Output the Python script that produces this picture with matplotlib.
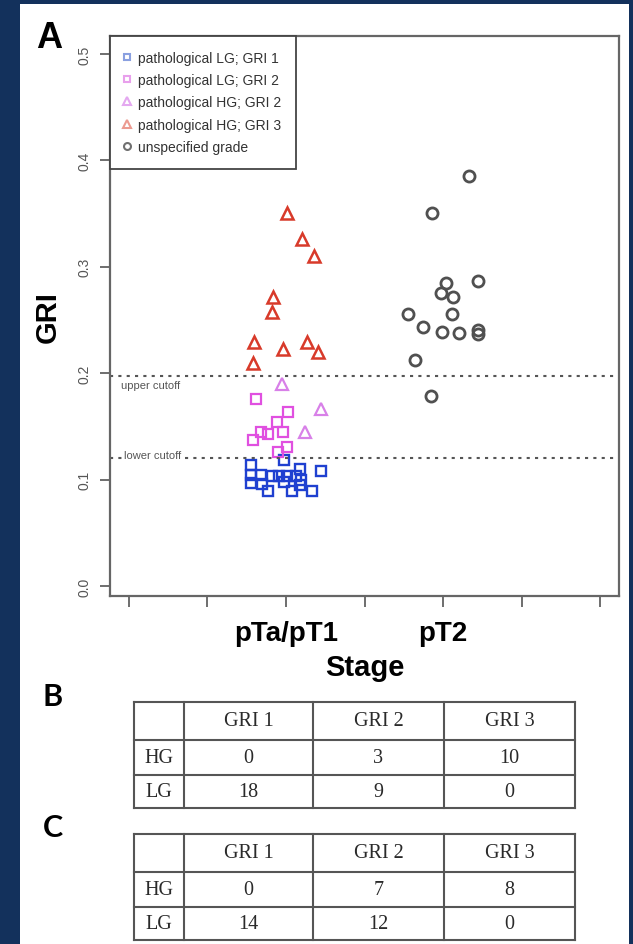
import matplotlib
matplotlib.use("Agg")
import matplotlib.pyplot as plt
from matplotlib.lines import Line2D
from matplotlib.patches import Rectangle

# GRI values (x = jittered stage position)
lg1_x = [0.987, 0.775, 1.087, 1.221, 0.775, 0.839, 0.913, 0.955, 1.008,
         1.062, 1.094, 0.775, 0.849, 0.987, 1.087, 0.887, 1.036, 1.168]
lg1_y = [0.118, 0.114, 0.110, 0.108, 0.104, 0.104, 0.103, 0.103, 0.103,
         0.103, 0.100, 0.097, 0.096, 0.098, 0.095, 0.089, 0.089, 0.089]
lg2_x = [0.811, 1.015, 0.945, 0.839, 0.887, 0.981, 0.790, 1.008, 0.951]
lg2_y = [0.176, 0.164, 0.154, 0.145, 0.143, 0.145, 0.137, 0.131, 0.126]
hg2_x = [0.977, 1.221, 1.121]
hg2_y = [0.190, 0.166, 0.145]
hg3_x = [1.006, 1.104, 1.178, 0.917, 0.909, 0.796, 0.981, 1.136, 1.206, 0.790]
hg3_y = [0.351, 0.326, 0.310, 0.272, 0.258, 0.229, 0.223, 0.229, 0.220, 0.210]
unsp_x = [2.166, 1.932, 2.225, 2.017, 1.985, 2.064, 1.779, 2.059, 1.875,
          1.996, 2.102, 2.225, 2.221, 1.822, 1.921]
unsp_y = [0.385, 0.351, 0.287, 0.285, 0.275, 0.272, 0.256, 0.256, 0.243,
          0.239, 0.238, 0.241, 0.237, 0.212, 0.179]

upper_cutoff = 0.197
lower_cutoff = 0.120

stage_ticks = [0, 0.5, 1, 1.5, 2, 2.5, 3]
stage_labels = ["", "", "pTa/pT1", "", "pT2", "", ""]
gri_ticks = [0.0, 0.1, 0.2, 0.3, 0.4, 0.5]

legend_labels = ["pathological LG; GRI 1", "pathological LG; GRI 2",
                 "pathological HG; GRI 2", "pathological HG; GRI 3",
                 "unspecified grade"]

table_cols = ["", "GRI 1", "GRI 2", "GRI 3"]
table_rows = ["HG", "LG"]
table_b = [[0, 3, 10], [18, 9, 0]]
table_c = [[0, 7, 8], [14, 12, 0]]

sans = ["Liberation Sans", "DejaVu Sans"]

fig = plt.figure(figsize=(6.33, 9.45), dpi=100)
fig.patch.set_facecolor("#13315c")

# белая подложка
bg = fig.add_axes([0, 0, 1, 1])
bg.set_xlim(0, 633)
bg.set_ylim(945, 0)
bg.axis("off")
bg.add_patch(Rectangle((20, 5), 609, 945, facecolor="white", edgecolor="none"))

# panel A
ax = fig.add_axes([110 / 633, 1 - 597 / 945, 509 / 633, 560 / 945])
blue = "#1f40d0"
magenta = "#e050e0"
violet = "#d880e8"
red = "#d83a2a"
grey = "#505050"

ax.plot(lg1_x, lg1_y, "s", ms=7.5, mfc="none", mec=blue, mew=1.7)
ax.plot(lg2_x, lg2_y, "s", ms=7.5, mfc="none", mec=magenta, mew=1.6)
ax.plot(hg2_x, hg2_y, "^", ms=9, mfc="none", mec=violet, mew=1.6)
ax.plot(hg3_x, hg3_y, "^", ms=9, mfc="none", mec=red, mew=1.8)
ax.plot(unsp_x, unsp_y, "o", ms=8, mfc="none", mec=grey, mew=2)

ax.axhline(upper_cutoff, color="#555555", ls=(0, (1.5, 2.5)), lw=1.5)
ax.axhline(lower_cutoff, color="#555555", ls=(0, (1.5, 2.5)), lw=1.5)
ax.text(-0.05, upper_cutoff - 0.008, "upper cutoff", fontsize=8,
        color="#555555", va="center", ha="left", family=sans)
ax.text(-0.03, lower_cutoff + 0.003, "lower cutoff", fontsize=8,
        color="#555555", va="center", ha="left", family=sans,
        bbox=dict(facecolor="white", edgecolor="none", pad=0.5))

ax.set_xlim(-0.12, 3.12)
ax.set_ylim(-0.0094, 0.517)
ax.set_xticks(stage_ticks)
ax.set_xticklabels(stage_labels, fontsize=20, fontweight="bold", family=sans)
ax.set_yticks(gri_ticks)
ax.set_yticklabels([f"{v:.1f}" for v in gri_ticks], rotation=90,
                   va="center", fontsize=10, color="#555555", family=sans)
ax.tick_params(axis="x", length=8, width=1.2, color="#555555", pad=9)
ax.tick_params(axis="y", length=7, width=1.2, color="#555555", pad=6)
for s in ax.spines.values():
    s.set_color("#666666")
    s.set_linewidth(1.6)
ax.set_xlabel("Stage", fontsize=21, fontweight="bold", labelpad=5, family=sans)
ax.set_ylabel("GRI", fontsize=21, fontweight="bold", labelpad=12, family=sans)

handles = [
    Line2D([], [], ls="none", marker="s", ms=5, mfc="none", mec="#8aa0e0", mew=1.5),
    Line2D([], [], ls="none", marker="s", ms=5, mfc="none", mec="#e8a0ec", mew=1.5),
    Line2D([], [], ls="none", marker="^", ms=6, mfc="none", mec="#e4a8f0", mew=1.5),
    Line2D([], [], ls="none", marker="^", ms=6, mfc="none", mec="#ec9a90", mew=1.5),
    Line2D([], [], ls="none", marker="o", ms=5, mfc="none", mec="#707070", mew=1.5),
]
leg = ax.legend(handles, legend_labels, loc="upper left", bbox_to_anchor=(0, 1),
                borderaxespad=0, prop={"family": sans, "size": 10},
                labelspacing=0.6, handlelength=0.4, handletextpad=0.6,
                borderpad=1.05, fancybox=False, framealpha=1)
leg.get_frame().set_edgecolor("#444444")
leg.get_frame().set_linewidth(1.3)
for t in leg.get_texts():
    t.set_color("#333333")

fig.text(49 / 633, 1 - 38 / 945, "A", fontsize=26, fontweight="bold",
         ha="center", va="center", family=sans)


# tables B and C
def draw_table(top, values):
    col_edges = [134, 184, 313, 444, 575]
    row_edges = [top, top + 38, top + 73, top + 106]
    for y in row_edges:
        bg.plot([col_edges[0], col_edges[-1]], [y, y], color="#555555", lw=1.5)
    for x in col_edges:
        bg.plot([x, x], [row_edges[0], row_edges[-1]], color="#555555", lw=1.5)
    cells = [table_cols] + [[r] + [str(v) for v in vals]
                            for r, vals in zip(table_rows, values)]
    for i, row in enumerate(cells):
        yc = (row_edges[i] + row_edges[i + 1]) / 2
        for j, txt in enumerate(row):
            xc = (col_edges[j] + col_edges[j + 1]) / 2
            bg.text(xc, yc, txt, fontsize=14.5, family="Liberation Serif",
                    color="#2a2a2a", ha="center", va="center")


draw_table(703, table_b)
draw_table(835, table_c)
bg.text(53, 697, "B", fontsize=22, fontweight="bold", family="Lato",
        ha="center", va="center")
bg.text(53, 828, "C", fontsize=22, fontweight="bold", family="Lato",
        ha="center", va="center")

fig.savefig("out.png", dpi=100, facecolor=fig.get_facecolor())
